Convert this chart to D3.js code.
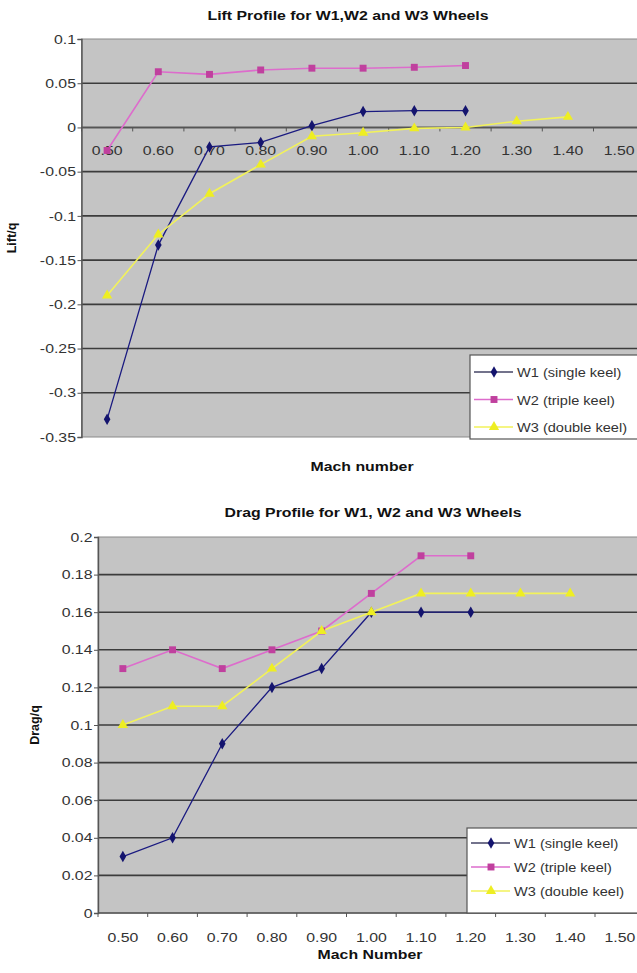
<!DOCTYPE html>
<html>
<head>
<meta charset="utf-8">
<script src="https://cdn.jsdelivr.net/npm/d3@7"></script>
<style>
  body { margin: 0; background: #fff; }
  text { font-family: "Liberation Sans", Arial, sans-serif; }
</style>
</head>
<body>
<div id="chart"></div>
<script>
// categories on the x axis (shared by both charts)
const machLabels = ["0.50", "0.60", "0.70", "0.80", "0.90", "1.00", "1.10", "1.20", "1.30", "1.40", "1.50"];

const seriesNames = ["W1 (single keel)", "W2 (triple keel)", "W3 (double keel)"];

// lift / q
const liftW1 = [-0.33, -0.133, -0.022, -0.017, 0.002, 0.018, 0.019, 0.019];
const liftW2 = [-0.026, 0.063, 0.060, 0.065, 0.067, 0.067, 0.068, 0.070];
const liftW3 = [-0.19, -0.121, -0.075, -0.042, -0.01, -0.006, -0.001, 0.0, 0.007, 0.012];
const liftTicks = [0.1, 0.05, 0, -0.05, -0.1, -0.15, -0.2, -0.25, -0.3, -0.35];

// drag / q
const dragW1 = [0.03, 0.04, 0.09, 0.12, 0.13, 0.16, 0.16, 0.16];
const dragW2 = [0.13, 0.14, 0.13, 0.14, 0.15, 0.17, 0.19, 0.19];
const dragW3 = [0.10, 0.11, 0.11, 0.13, 0.15, 0.16, 0.17, 0.17, 0.17, 0.17];
const dragTicks = [0.2, 0.18, 0.16, 0.14, 0.12, 0.1, 0.08, 0.06, 0.04, 0.02, 0];

const width = 637, height = 973;
const stretch = 1.22; // the original picture is stretched sideways, text too

const lineColors = ["#1a1a80", "#dd6ccc", "#f2f25a"];
const markColors = ["#14146e", "#c0409e", "#eeee22"];
const markShapes = [d3.symbolDiamond, d3.symbolSquare, d3.symbolTriangle];
const markSizes = [38, 48, 46];

const svg = d3.select("#chart").append("svg")
    .attr("width", width)
    .attr("height", height);

// text drawn with a horizontal stretch around its anchor point
const addText = (parent, x, y, str, size, anchor, bold, fill, sx = stretch) =>
    parent.append("text")
        .attr("transform", `translate(${x},${y}) scale(${sx},1)`)
        .attr("text-anchor", anchor)
        .attr("fill", fill || "#333")
        .style("font-size", size + "px")
        .style("font-weight", bold ? "bold" : "normal")
        .text(str);

const drawChart = (cfg) => {
    const g = svg.append("g");

    const x = d3.scaleBand()
        .domain(machLabels)
        .range([cfg.left, cfg.left + cfg.step * machLabels.length]);

    const y = d3.scaleLinear()
        .domain([d3.min(cfg.ticks), d3.max(cfg.ticks)])
        .range([cfg.bottom, cfg.top]);

    // plot background (runs off the right edge like the original)
    g.append("rect")
        .attr("x", cfg.left)
        .attr("y", cfg.top)
        .attr("width", width - cfg.left + 10)
        .attr("height", cfg.bottom - cfg.top)
        .attr("fill", "#c4c4c4")
        .attr("stroke", "#8a8a8a")
        .attr("stroke-width", 1);

    // gridlines
    g.selectAll(".grid")
        .data(cfg.ticks.filter(t => t !== d3.max(cfg.ticks) && t !== d3.min(cfg.ticks)))
        .enter()
        .append("line")
        .attr("x1", cfg.left)
        .attr("x2", width)
        .attr("y1", d => y(d))
        .attr("y2", d => y(d))
        .attr("stroke", "#3c3c3c")
        .attr("stroke-width", 1.6);

    // y axis
    const yAxis = d3.axisLeft(y)
        .tickValues(cfg.ticks)
        .tickSize(4)
        .tickFormat(d => String(d));
    const ya = g.append("g")
        .attr("transform", `translate(${cfg.left},0)`)
        .call(yAxis);
    ya.select(".domain").attr("stroke", "#555").attr("stroke-width", 1.4);
    ya.selectAll(".tick line").attr("stroke", "#555");
    ya.selectAll("text")
        .attr("fill", "#333")
        .style("font-size", "13px")
        .attr("x", -4.5)
        .attr("transform", `scale(${stretch},1)`);

    // x axis (on the zero line), ticks at category boundaries
    const zeroY = y(0);
    g.append("line")
        .attr("x1", cfg.left).attr("x2", width)
        .attr("y1", zeroY).attr("y2", zeroY)
        .attr("stroke", "#555").attr("stroke-width", 1.6);

    const bounds = d3.range(machLabels.length + 1).map(i => cfg.left + i * x.step());
    g.selectAll(".xtick")
        .data(bounds)
        .enter()
        .append("line")
        .attr("x1", d => d).attr("x2", d => d)
        .attr("y1", zeroY).attr("y2", zeroY + 4)
        .attr("stroke", "#555");

    machLabels.forEach(lab => {
        addText(g, x(lab) + x.bandwidth() / 2, zeroY + cfg.labelOffset, lab, 13, "middle");
    });

    // series
    const line = d3.line()
        .x((d, i) => x(machLabels[i]) + x.bandwidth() / 2)
        .y(d => y(d));

    cfg.series.forEach((vals, s) => {
        g.append("path")
            .datum(vals)
            .attr("d", line)
            .attr("fill", "none")
            .attr("stroke", lineColors[s])
            .attr("stroke-width", s === 0 ? 1.3 : 1.6);
    });
    cfg.series.forEach((vals, s) => {
        g.selectAll(`.mark${s}`)
            .data(vals)
            .enter()
            .append("path")
            .attr("d", d3.symbol().type(markShapes[s]).size(markSizes[s]))
            .attr("transform", (d, i) => `translate(${x(machLabels[i]) + x.bandwidth() / 2},${y(d)})`)
            .attr("fill", markColors[s]);
    });

    // titles
    addText(g, cfg.titleX, cfg.titleY, cfg.title, 13, "middle", true, "#111");
    addText(g, cfg.xTitleX, cfg.xTitleY, cfg.xTitle, 13, "middle", true, "#111");

    g.append("text")
        .attr("transform", `translate(${cfg.yTitleX},${cfg.yTitleY}) rotate(-90)`)
        .attr("text-anchor", "middle")
        .style("font-size", "12.5px").style("font-weight", "bold")
        .attr("fill", "#111")
        .text(cfg.yTitle);

    // legend
    const lg = g.append("g").attr("transform", `translate(${cfg.legX},${cfg.legY})`);
    lg.append("rect")
        .attr("width", width - cfg.legX + 10)
        .attr("height", cfg.legH)
        .attr("fill", "#fff")
        .attr("stroke", "#555")
        .attr("stroke-width", 1.2);
    seriesNames.forEach((name, s) => {
        const ly = cfg.legPad + s * cfg.legGap;
        lg.append("line")
            .attr("x1", 4).attr("x2", 43)
            .attr("y1", ly).attr("y2", ly)
            .attr("stroke", s === 0 ? "#444466" : lineColors[s])
            .attr("stroke-width", 1.3);
        lg.append("path")
            .attr("d", d3.symbol().type(markShapes[s]).size(markSizes[s]))
            .attr("transform", `translate(24,${ly})`)
            .attr("fill", markColors[s]);
        // slightly narrower than the original so the last entry stays inside the page
        addText(lg, 47, ly + 5, name, 13, "start", false, "#333", 1.12);
    });
};

drawChart({
    left: 81.5, top: 39, bottom: 437, step: 51.2,
    ticks: liftTicks,
    series: [liftW1, liftW2, liftW3],
    labelOffset: 28,
    title: "Lift Profile for W1,W2 and W3 Wheels", titleX: 348, titleY: 20,
    xTitle: "Mach number", xTitleX: 362, xTitleY: 471,
    yTitle: "Lift/q", yTitleX: 16, yTitleY: 238,
    legX: 470, legY: 355, legH: 84, legPad: 17, legGap: 27.5
});

drawChart({
    left: 98, top: 537, bottom: 913, step: 49.7,
    ticks: dragTicks,
    series: [dragW1, dragW2, dragW3],
    labelOffset: 29,
    title: "Drag Profile for W1, W2 and W3 Wheels", titleX: 373, titleY: 517,
    xTitle: "Mach Number", xTitleX: 370, xTitleY: 959,
    yTitle: "Drag/q", yTitleX: 39, yTitleY: 725,
    legX: 467, legY: 828, legH: 85, legPad: 15, legGap: 24
});
</script>
</body>
</html>
